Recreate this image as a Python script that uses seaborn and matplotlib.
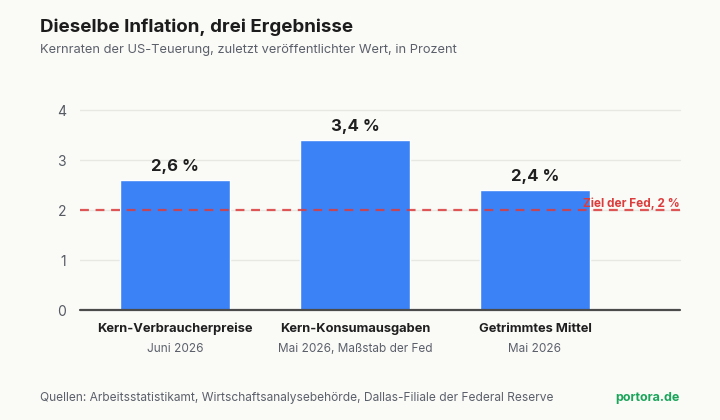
import matplotlib
matplotlib.use("Agg")
import matplotlib.pyplot as plt
import seaborn as sns
import pandas as pd

categories = ["Kern-Verbraucherpreise", "Kern-Konsumausgaben", "Getrimmtes Mittel"]
sublabels = ["Juni 2026", "Mai 2026, Maßstab der Fed", "Mai 2026"]
values = [2.6, 3.4, 2.4]
value_labels = ["2,6 %", "3,4 %", "2,4 %"]
target = 2.0
target_label = "Ziel der Fed, 2 %"
yticks = [0, 1, 2, 3, 4]

bg = "#fafaf7"
blue = "#3b82f6"
red = "#dc3c3c"

sns.set_theme(style="white")
plt.rcParams["font.family"] = ["Inter", "DejaVu Sans"]

df = pd.DataFrame({"cat": categories, "val": values})

fig = plt.figure(figsize=(7.2, 4.2), dpi=100, facecolor=bg)
ax = fig.add_axes([80/720, 1-310/420, 600/720, 200/420])
ax.set_facecolor(bg)

sns.barplot(data=df, x="cat", y="val", color=blue, width=0.61, saturation=1, ax=ax, zorder=2)

ax.set_xlim(-0.528, 2.806)
ax.set_ylim(0, 4)
ax.set_yticks(yticks)
for t in yticks[1:]:
    ax.axhline(t, color="#e8e8e3", lw=1, zorder=0, clip_on=False)
ax.axhline(0, color="#4b4b4b", lw=1.6, zorder=3, clip_on=False)
ax.axhline(target, color=red, lw=1.6, ls=(0, (4, 3)), zorder=4, alpha=0.85)
ax.text(2.806, target + 0.12, target_label, color=red, fontsize=8.5, fontweight="bold",
        ha="right", va="center")

for i, (v, lab) in enumerate(zip(values, value_labels)):
    ax.text(i, v + 0.28, lab, ha="center", va="center", fontsize=12, fontweight="bold", color="#1f1f1f")

for s in ax.spines.values():
    s.set_visible(False)
ax.set_xlabel("")
ax.set_ylabel("")
ax.set_xticks(range(len(categories)))
ax.set_xticklabels([])
ax.tick_params(axis="y", length=0, pad=10, labelsize=10, labelcolor="#555a63")
ax.tick_params(axis="x", length=0)

for i, (c, s) in enumerate(zip(categories, sublabels)):
    ax.text(i, -0.38, c, ha="center", va="center", fontsize=9.3, fontweight="bold", color="#1f1f1f")
    ax.text(i, -0.78, s, ha="center", va="center", fontsize=8.5, color="#5b606a")

fig.text(40/720, 1-27/420, "Dieselbe Inflation, drei Ergebnisse", fontsize=13.5, fontweight="bold",
         color="#1c1c1c", va="center")
fig.text(40/720, 1-50/420, "Kernraten der US-Teuerung, zuletzt veröffentlichter Wert, in Prozent",
         fontsize=9.25, color="#5b606a", va="center")
fig.text(40/720, 1-398/420, "Quellen: Arbeitsstatistikamt, Wirtschaftsanalysebehörde, Dallas-Filiale der Federal Reserve",
         fontsize=8.6, color="#5b606a", va="center")
fig.text(680/720, 1-398/420, "portora.de", fontsize=9, fontweight="bold", color="#1aa55a",
         va="center", ha="right")

fig.savefig("out.png", dpi=100, facecolor=bg)
